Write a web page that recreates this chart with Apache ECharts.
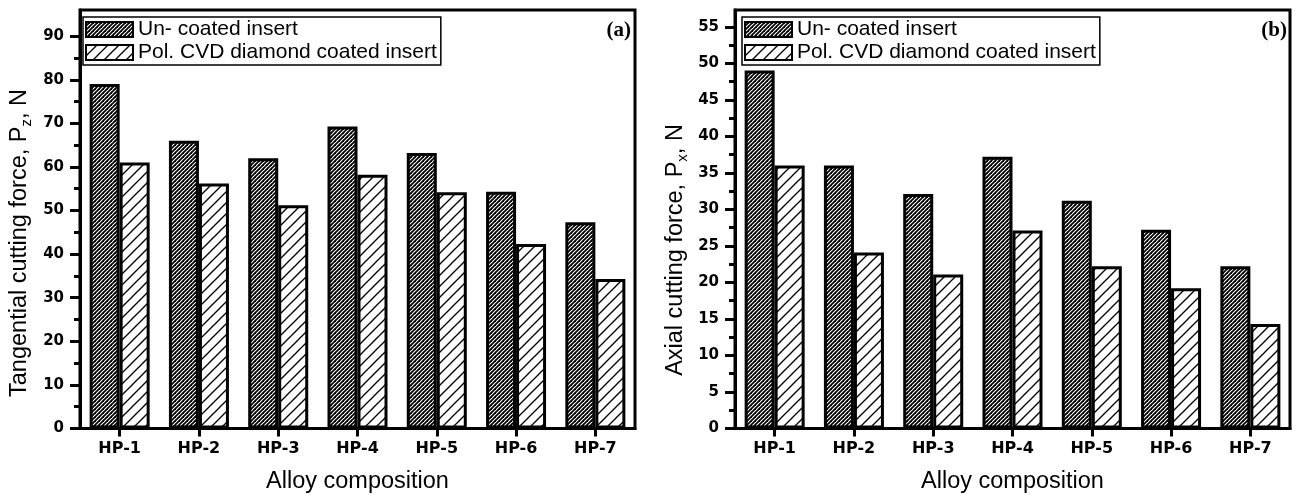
<!DOCTYPE html>
<html>
<head>
<meta charset="utf-8">
<script src="https://cdn.jsdelivr.net/npm/echarts@6/dist/echarts.min.js"></script>
<style>
html,body{margin:0;padding:0;background:#fff;}
#chart{width:1297px;height:495px;}
</style>
</head>
<body>
<div id="chart"></div>
<script>
const categories = ['HP-1', 'HP-2', 'HP-3', 'HP-4', 'HP-5', 'HP-6', 'HP-7'];
const seriesNames = ['Un- coated insert', 'Pol. CVD diamond coated insert'];
// (a) Tangential cutting force, N
const uncoatedA = [79, 66, 62, 69.3, 63.2, 54.3, 47.3];
const coatedA = [61, 56.2, 51.2, 58.2, 54.2, 42.3, 34.3];
// (b) Axial cutting force, N
const uncoatedB = [49, 36, 32.1, 37.2, 31.2, 27.2, 22.2];
const coatedB = [36, 24.1, 21.1, 27.1, 22.2, 19.2, 14.3];
// tick labels
const yTicksA = [0, 10, 20, 30, 40, 50, 60, 70, 80, 90];
const yMinorA = [5, 15, 25, 35, 45, 55, 65, 75, 85];
const yTicksB = [0, 5, 10, 15, 20, 25, 30, 35, 40, 45, 50, 55];
const yMinorB = [2.5, 7.5, 12.5, 17.5, 22.5, 27.5, 32.5, 37.5, 42.5, 47.5, 52.5];

function hatch(step, lw) {
  const c = document.createElement('canvas');
  c.width = step; c.height = step;
  const g = c.getContext('2d');
  g.fillStyle = '#fff'; g.fillRect(0, 0, step, step);
  g.strokeStyle = '#000'; g.lineWidth = lw;
  for (const k of [-1, 0, 1]) {
    g.beginPath();
    g.moveTo(k * step - 1, step + 1);
    g.lineTo(k * step + step + 1, -1);
    g.stroke();
  }
  return { image: c, repeat: 'repeat' };
}
const darkFill = hatch(4, 1.8);
const lightFill = hatch(11, 1.3);

const tickFont = { fontFamily: 'DejaVu Sans', fontWeight: 'bold', color: '#000' };
const txtFont = 'Liberation Sans';

function yMain(grid, max, ticks) {
  return {
    type: 'value', gridIndex: grid, min: 0, max: max, position: 'left',
    axisLine: { show: true, lineStyle: { color: '#000', width: 3 } },
    axisTick: { show: true, inside: false, length: 10, lineStyle: { color: '#000', width: 3 }, customValues: ticks },
    axisLabel: Object.assign({ fontSize: 15, margin: 16, customValues: ticks }, tickFont),
    splitLine: { show: false }
  };
}
function yMinor(grid, max, ticks) {
  return {
    type: 'value', gridIndex: grid, min: 0, max: max, position: 'left',
    axisLine: { show: false },
    axisTick: { show: true, inside: false, length: 6, lineStyle: { color: '#000', width: 3 }, customValues: ticks },
    axisLabel: { show: false },
    splitLine: { show: false }
  };
}
function xAx(grid) {
  return {
    type: 'category', gridIndex: grid, data: categories, boundaryGap: true,
    axisLine: { show: true, lineStyle: { color: '#000', width: 3 } },
    axisTick: { show: true, alignWithLabel: true, length: 8, lineStyle: { color: '#000', width: 3 } },
    axisLabel: Object.assign({ fontSize: 16, margin: 12, interval: 0 }, tickFont),
    name: 'Alloy composition', nameLocation: 'middle', nameGap: 41,
    nameTextStyle: { fontFamily: txtFont, fontSize: 23.5, color: '#000' },
    splitLine: { show: false }
  };
}
function bar(name, data, xi, yi, fill) {
  return {
    type: 'bar', name: name, data: data, xAxisIndex: xi, yAxisIndex: yi,
    barWidth: 30, barGap: '0%',
    itemStyle: { color: fill, borderColor: '#000', borderWidth: 3 },
    emphasis: { disabled: true }
  };
}
function legend(left) {
  return {
    data: seriesNames, orient: 'vertical', left: left, top: 17,
    icon: 'rect', itemWidth: 47, itemHeight: 15, itemGap: 2,
    padding: [2, 4, 2, 2], borderColor: '#000', borderWidth: 1.5,
    selectedMode: false,
    itemStyle: { borderColor: '#000', borderWidth: 2 },
    textStyle: { fontFamily: txtFont, fontSize: 21, color: '#000' }
  };
}
function yTitle(x, y, main, sub) {
  return {
    type: 'text', x: x, y: y, rotation: Math.PI / 2,
    style: {
      text: '{a|' + main + '}{s|' + sub + '}{a|, N}',
      align: 'center', verticalAlign: 'middle',
      textAlign: 'center', textVerticalAlign: 'middle',
      rich: {
        a: { fontFamily: txtFont, fontSize: 23.5, lineHeight: 28, fill: '#000', color: '#000' },
        s: { fontFamily: txtFont, fontSize: 15, lineHeight: 15, verticalAlign: 'bottom', fill: '#000', color: '#000' }
      }
    }
  };
}
function panelLabel(x, y, t) {
  return {
    type: 'text', x: x, y: y,
    style: {
      text: t, fill: '#000', font: 'bold 21px "Liberation Serif"',
      align: 'right', verticalAlign: 'middle', textAlign: 'right', textVerticalAlign: 'middle'
    }
  };
}

const gridBase = { top: 10, width: 555, height: 418.5, show: true, borderColor: '#000', borderWidth: 3, containLabel: false, outerBoundsMode: 'none' };
const chart = echarts.init(document.getElementById('chart'), null, { renderer: 'canvas' });
chart.setOption({
  animation: false,
  backgroundColor: '#fff',
  grid: [
    Object.assign({ left: 80 }, gridBase),
    Object.assign({ left: 735 }, gridBase)
  ],
  xAxis: [xAx(0), xAx(1)],
  yAxis: [yMain(0, 96, yTicksA), yMinor(0, 96, yMinorA), yMain(1, 57.3, yTicksB), yMinor(1, 57.3, yMinorB)],
  legend: [legend(83), legend(742)],
  series: [
    bar(seriesNames[0], uncoatedA, 0, 0, darkFill),
    bar(seriesNames[1], coatedA, 0, 0, lightFill),
    bar(seriesNames[0], uncoatedB, 1, 2, darkFill),
    bar(seriesNames[1], coatedB, 1, 2, lightFill)
  ],
  graphic: [
    yTitle(20, 243, 'Tangential cutting force, P', 'z'),
    yTitle(676, 250, 'Axial cutting force, P', 'x'),
    panelLabel(631, 31, '(a)'),
    panelLabel(1287, 31, '(b)')
  ]
});
</script>
</body>
</html>
